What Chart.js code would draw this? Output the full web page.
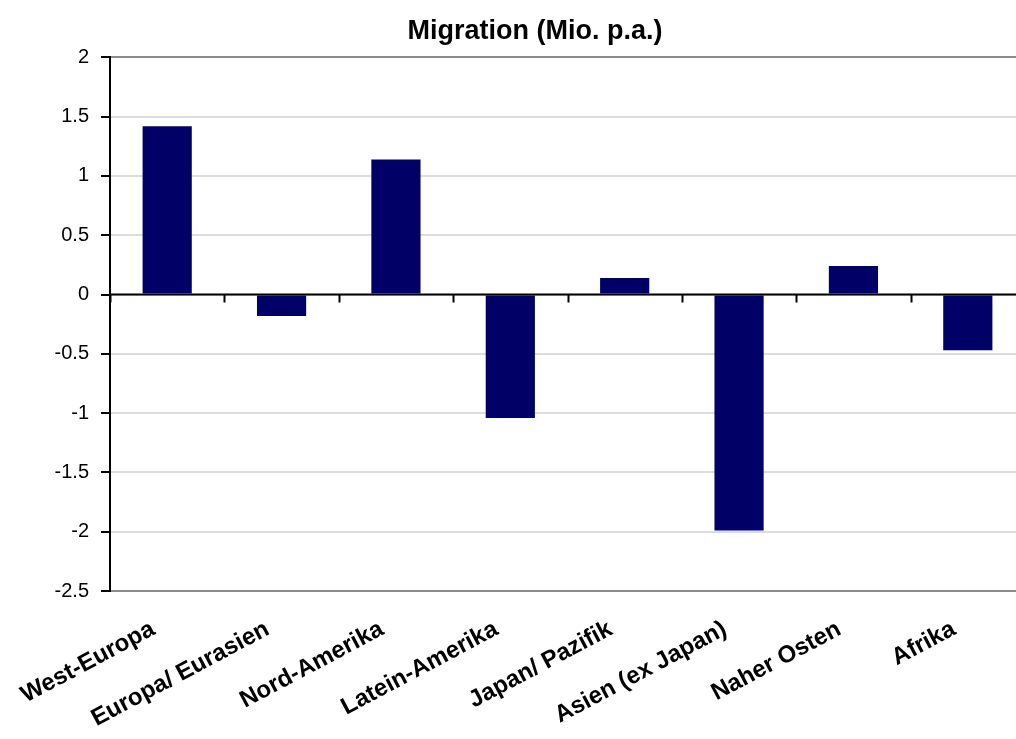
<!DOCTYPE html>
<html>
<head>
<meta charset="utf-8">
<script src="https://cdn.jsdelivr.net/npm/chart.js@4.4.1/dist/chart.umd.min.js"></script>
<style>
  html, body { margin: 0; padding: 0; background: #fff; overflow: hidden; }
  #wrap { width: 1070px; height: 739px; }
</style>
</head>
<body>
<div id="wrap"><canvas id="c" width="1070" height="739"></canvas></div>
<script>
// Net migration by region, millions per year
const regions = ['West-Europa', 'Europa/ Eurasien', 'Nord-Amerika', 'Latein-Amerika',
                 'Japan/ Pazifik', 'Asien (ex Japan)', 'Naher Osten', 'Afrika'];
const migration = [1.42, -0.18, 1.14, -1.04, 0.14, -1.99, 0.24, -0.47];
const yTicks = [2, 1.5, 1, 0.5, 0, -0.5, -1, -1.5, -2, -2.5];

const FONT = '"Liberation Sans", Arial, sans-serif';

// Short down-pointing ticks on the zero line between categories
const zeroLineTicks = {
  id: 'zeroLineTicks',
  afterDatasetsDraw(chart) {
    const { ctx, scales: { x, y } } = chart;
    const y0 = y.getPixelForValue(0);
    const step = x.width / regions.length;
    ctx.save();
    ctx.strokeStyle = '#000';
    ctx.lineWidth = 2;
    ctx.beginPath();
    ctx.moveTo(x.left, y0);
    ctx.lineTo(x.right, y0);
    for (let i = 0; i <= regions.length; i++) {
      const px = Math.round(x.left + i * step) + 0.5;
      ctx.moveTo(px, y0);
      ctx.lineTo(px, y0 + 8);
    }
    ctx.stroke();
    ctx.restore();
  }
};

new Chart(document.getElementById('c'), {
  type: 'bar',
  data: {
    labels: regions,
    datasets: [{
      data: migration,
      backgroundColor: '#000066',
      borderWidth: 0,
      barPercentage: 0.43,
      categoryPercentage: 1.0
    }]
  },
  options: {
    responsive: false,
    animation: false,
    layout: { padding: 0 },
    plugins: {
      legend: { display: false },
      tooltip: { enabled: false },
      title: {
        display: true,
        text: 'Migration (Mio. p.a.)',
        color: '#000',
        font: { family: FONT, size: 27, weight: 'bold' },
        padding: { top: 15, bottom: 10 }
      }
    },
    scales: {
      x: {
        offset: true,
        grid: { display: false },
        border: { display: true, color: '#8c8c8c', width: 2 },
        ticks: {
          color: '#000',
          font: { family: FONT, size: 24, weight: 'bold' },
          maxRotation: 28,
          minRotation: 28,
          autoSkip: false,
          padding: 16,
          labelOffset: -14
        },
        afterFit(scale) { scale.height = 148; }
      },
      y: {
        min: -2.5,
        max: 2,
        afterBuildTicks(scale) { scale.ticks = yTicks.map(v => ({ value: v })); },
        grid: {
          color(ctx) {
            const v = ctx.tick && ctx.tick.value;
            if (v === 2 || v === -2.5) return '#8c8c8c';
            return '#dcdcdc';
          },
          lineWidth: 2,
          tickColor: '#000',
          tickLength: 9,
          drawTicks: true
        },
        border: { display: true, color: '#000', width: 2 },
        ticks: {
          color: '#000',
          font: { family: FONT, size: 20 },
          padding: 12,
          callback: v => String(v)
        },
        afterFit(scale) { scale.width = 110; }
      },
      // empty strip on the right so the plot runs past the visible edge
      side: {
        position: 'right',
        grid: { display: false, drawTicks: false },
        border: { display: false },
        ticks: { display: false },
        afterFit(scale) { scale.width = 45; }
      }
    }
  },
  plugins: [zeroLineTicks]
});
</script>
</body>
</html>
